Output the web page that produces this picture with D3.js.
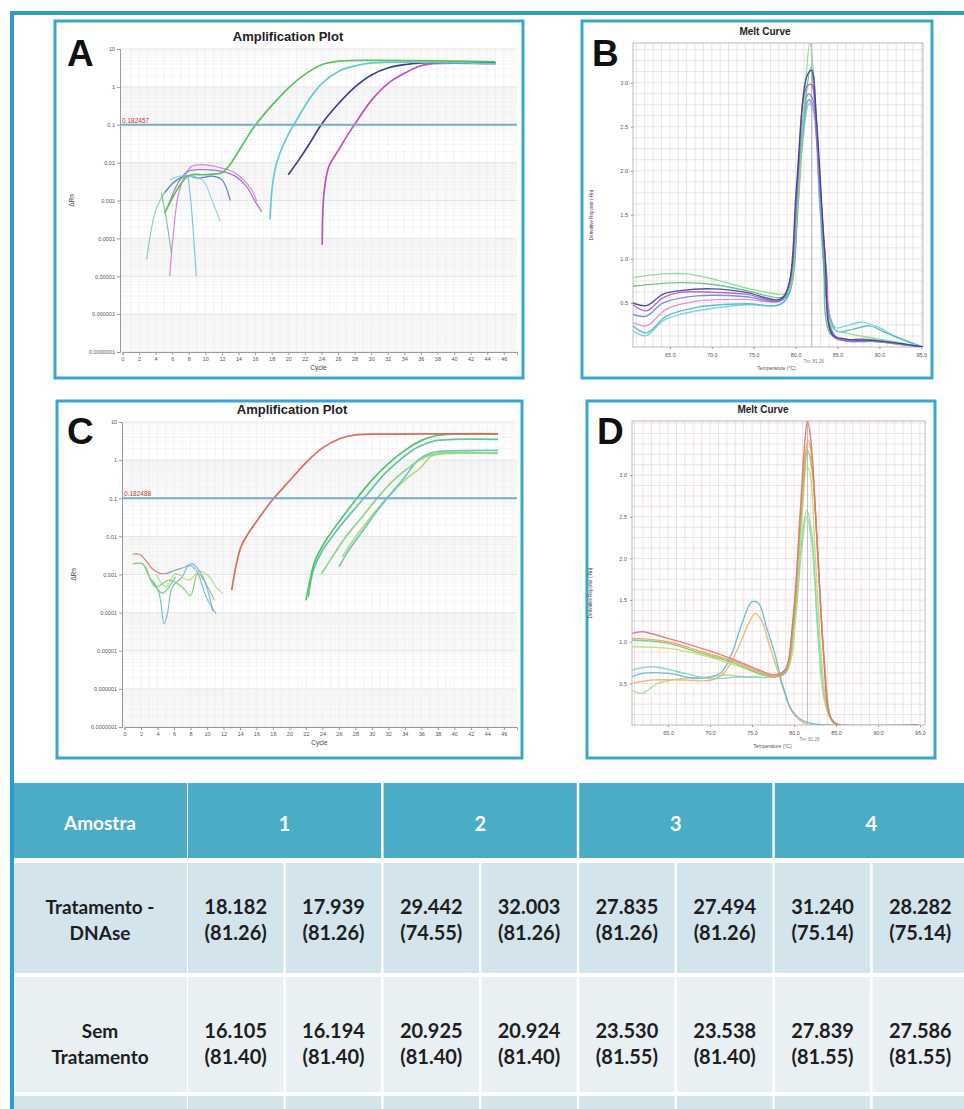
<!DOCTYPE html>
<html>
<head>
<meta charset="utf-8">
<script src="https://cdn.jsdelivr.net/npm/d3@7"></script>
<style>
  body { margin: 0; background: #fff; }
  svg { display: block; }
</style>
</head>
<body>
<svg id="fig" width="964" height="1109"></svg>
<script>
// ---- amplification plots: [cycle, deltaRn] ----
const cycleTicks = d3.range(0, 47, 2);
const ampDecades = [1e-7, 1e-6, 1e-5, 1e-4, 1e-3, 1e-2, 0.1, 1, 10];
const ampTickLabels = ['0.0000001', '0.000001', '0.00001', '0.0001', '0.001', '0.01', '0.1', '1', '10'];

const ampA_green = [[5.1, 4.7e-4], [7.9, 4.4e-3], [10.0, 4.8e-3], [12.0, 5.4e-3], [12.8, 7.9e-3], [14.0, 0.020], [15.0, 0.045], [16.0, 0.095], [17.0, 0.18], [18.0, 0.32], [20.0, 0.93], [22.1, 2.2], [24.1, 3.9], [26.1, 4.8], [30.1, 5.0], [45.0, 4.6]];
const ampA_teal = [[17.8, 3.1e-4], [18.0, 1.6e-3], [18.4, 6.5e-3], [19.0, 0.018], [20.0, 0.055], [21.3, 0.17], [22.5, 0.46], [24.1, 1.26], [26.1, 2.6], [28.1, 3.6], [30.1, 4.3], [45.0, 4.1]];
const ampA_navy = [[20.0, 4.8e-3], [21.3, 0.012], [22.5, 0.030], [24.1, 0.11], [26.1, 0.37], [28.1, 1.02], [30.1, 2.1], [32.1, 3.2], [34.2, 3.9], [36.2, 4.3], [45.0, 4.3]];
const ampA_magenta = [[24.1, 6.8e-5], [24.2, 7.1e-4], [24.4, 2.3e-3], [24.9, 7.9e-3], [26.1, 0.022], [27.3, 0.060], [28.1, 0.11], [30.1, 0.46], [32.1, 1.26], [34.2, 2.4], [35.8, 3.5], [37.4, 4.1], [45.0, 4.1]];
const noiseA_1 = [[2.9, 2.8e-5], [3.7, 3.1e-4], [4.1, 6.3e-4], [4.9, 1.4e-3], [5.9, 2.6e-3], [7.1, 3.9e-3], [7.9, 4.5e-3]];
const noiseA_2 = [[7.9, 4.5e-3], [8.3, 7.1e-4], [8.9, 1.0e-5]];
const noiseA_3 = [[5.7, 1.0e-5], [6.1, 1.1e-4], [6.7, 1.3e-3], [7.5, 4.4e-3], [8.3, 7.9e-3], [9.6, 8.9e-3], [11.2, 7.9e-3], [13.2, 5.9e-3], [14.6, 3.5e-3], [15.6, 1.9e-3], [16.2, 9.5e-4]];
const noiseA_4 = [[5.5, 7.1e-4], [6.7, 2.9e-3], [7.9, 5.9e-3], [10.0, 6.5e-3], [12.0, 5.9e-3], [13.6, 4.4e-3], [15.0, 2.3e-3], [16.0, 9.5e-4], [16.8, 5.1e-4]];
const noiseA_5 = [[5.1, 1.6e-3], [6.3, 3.2e-3], [7.7, 4.5e-3], [9.2, 3.9e-3], [10.8, 4.4e-3], [12.0, 3.5e-3], [13.0, 1.0e-3]];
const noiseA_6 = [[5.7, 3.5e-3], [7.1, 4.4e-3], [9.6, 3.5e-3], [10.8, 1.0e-3], [11.8, 2.8e-4]];
const noiseA_7 = [[4.7, 1.6e-3], [5.3, 3.1e-4], [5.9, 4.1e-5]];

const ampC_red = [[1.0, 3.4e-3], [1.8, 3.4e-3], [2.6, 2.3e-3], [3.4, 1.4e-3], [4.6, 1.05e-3], [5.8, 1.2e-3]];
const ampC_redAmp = [[13.0, 3.9e-4], [13.5, 1.6e-3], [14.1, 5.2e-3], [14.9, 0.011], [16.3, 0.030], [17.9, 0.089], [19.9, 0.27], [21.9, 0.81], [23.9, 2.0], [26.0, 3.6], [28.0, 4.6], [32.0, 4.8], [45.3, 4.9]];
const ampC_g1 = [[22.0, 2.1e-4], [22.5, 7.1e-4], [23.1, 2.3e-3], [24.3, 7.1e-3], [26.0, 0.024], [28.0, 0.089], [30.0, 0.30], [32.0, 0.81], [34.0, 1.8], [36.0, 3.3], [38.0, 4.5], [45.3, 4.9]];
const ampC_g2 = [[22.3, 2.6e-4], [22.9, 1.3e-3], [23.9, 3.9e-3], [25.6, 0.013], [27.6, 0.044], [29.6, 0.14], [31.6, 0.45], [33.6, 1.1], [35.6, 2.2], [37.6, 3.2], [40.0, 3.5], [45.3, 3.5]];
const ampC_g3 = [[23.9, 1.05e-3], [25.2, 2.9e-3], [26.8, 9.5e-3], [28.8, 0.032], [30.8, 0.11], [32.8, 0.32], [34.8, 0.72], [36.4, 1.2], [38.0, 1.5], [45.3, 1.55]];
const ampC_g4 = [[26.0, 1.6e-3], [27.2, 4.3e-3], [28.8, 0.013], [30.4, 0.040], [32.0, 0.11], [34.0, 0.36], [35.6, 1.0], [37.2, 1.55], [39.2, 1.74], [45.3, 1.8]];
const ampC_g5 = [[26.4, 2.9e-3], [28.0, 9.5e-3], [30.0, 0.035], [32.0, 0.11], [34.0, 0.30], [36.0, 0.66], [37.2, 1.26], [40.0, 1.5], [45.3, 1.5]];
const noiseC_1 = [[1.0, 1.9e-3], [2.2, 1.9e-3], [3.0, 8.7e-4], [3.8, 4.7e-4], [4.6, 3.2e-4], [5.4, 4.7e-4], [6.2, 8.7e-4]];
const noiseC_2 = [[3.4, 7.1e-4], [4.2, 3.2e-4], [4.8, 5.1e-5], [5.2, 9.3e-5], [5.8, 4.7e-4], [7.0, 8.7e-4], [7.8, 1.7e-3], [8.7, 1.3e-3], [9.9, 2.6e-4], [11.1, 9.3e-5]];
const noiseC_3 = [[3.8, 1.05e-3], [5.0, 4.7e-4], [6.2, 1.05e-3], [7.8, 7.1e-4], [9.1, 1.2e-3], [10.3, 8.7e-4], [11.1, 4.7e-4], [11.9, 3.2e-4]];
const noiseC_4 = [[2.6, 1.6e-3], [3.8, 4.7e-4], [5.4, 7.1e-4], [7.0, 4.7e-4], [8.0, 2.8e-4], [8.9, 1.05e-3], [10.3, 3.9e-4], [10.9, 2.1e-4]];
const noiseC_5 = [[5.0, 1.05e-3], [6.2, 1.3e-3], [7.4, 1.6e-3], [8.2, 1.9e-3], [9.5, 8.7e-4], [10.7, 1.1e-4]];

// ---- melt curves: [temperature, derivative] ----
const tempTicks = [65, 70, 75, 80, 85, 90, 95];
const derivTicks = [0.5, 1.0, 1.5, 2.0, 2.5, 3.0];

const meltB_green1 = [[60.6, 0.79], [64.2, 0.83], [67.0, 0.83], [70.2, 0.77], [74.1, 0.67], [78.1, 0.60], [79.1, 0.62], [80.1, 1.43], [80.9, 2.57], [81.7, 3.46], [82.1, 3.14], [82.7, 2.19], [83.5, 1.05], [84.4, 0.22], [86.0, 0.16], [90.0, 0.09], [92.4, 0.05], [95.2, 0.0]];
const meltB_green2 = [[60.6, 0.69], [66.2, 0.73], [70.2, 0.71], [74.1, 0.64], [78.1, 0.56], [79.1, 0.60], [80.1, 1.36], [81.1, 2.72], [81.8, 3.17], [82.3, 2.76], [83.3, 1.24], [84.2, 0.14], [86.0, 0.09], [90.0, 0.06], [95.2, 0.0]];
const meltB_navy = [[60.6, 0.50], [62.2, 0.47], [64.2, 0.60], [66.2, 0.64], [70.2, 0.66], [74.1, 0.62], [78.1, 0.54], [79.1, 0.67], [80.1, 1.81], [81.3, 3.06], [81.9, 3.14], [82.5, 2.57], [83.5, 1.05], [84.4, 0.14], [86.0, 0.09], [90.0, 0.07], [95.2, 0.0]];
const meltB_purple = [[60.6, 0.48], [62.2, 0.41], [64.2, 0.56], [66.2, 0.62], [70.2, 0.62], [74.1, 0.60], [78.1, 0.53], [79.3, 0.75], [80.3, 2.0], [81.3, 2.95], [81.9, 2.98], [82.5, 2.38], [83.7, 0.83], [84.6, 0.11], [88.0, 0.09], [90.8, 0.06], [95.2, 0.0]];
const meltB_blue = [[60.6, 0.37], [62.2, 0.35], [64.2, 0.50], [68.2, 0.58], [74.1, 0.57], [78.1, 0.52], [79.3, 0.67], [80.5, 2.19], [81.5, 2.87], [82.1, 2.80], [82.9, 1.81], [83.8, 0.48], [84.8, 0.11], [90.0, 0.06], [95.2, 0.0]];
const meltB_pink = [[60.6, 0.28], [62.2, 0.24], [64.6, 0.43], [68.2, 0.52], [74.1, 0.54], [78.1, 0.52], [79.3, 0.66], [80.5, 2.11], [81.5, 2.80], [82.1, 2.72], [82.9, 1.73], [83.9, 0.45], [84.9, 0.11], [90.0, 0.06], [95.2, 0.0]];
const meltB_cyan = [[60.6, 0.18], [62.2, 0.13], [64.2, 0.30], [66.2, 0.37], [70.2, 0.44], [74.1, 0.48], [78.1, 0.48], [79.3, 0.62], [80.5, 2.0], [81.6, 2.76], [82.1, 2.68], [82.9, 1.58], [84.0, 0.37], [84.8, 0.22], [86.0, 0.24], [88.0, 0.28], [90.0, 0.22], [92.0, 0.11], [95.2, 0.0]];
const meltB_teal = [[60.6, 0.24], [62.2, 0.16], [64.6, 0.35], [68.2, 0.45], [74.1, 0.49], [78.1, 0.48], [79.3, 0.63], [80.5, 2.08], [81.6, 2.81], [82.1, 2.74], [82.9, 1.66], [84.0, 0.39], [84.9, 0.18], [86.8, 0.20], [88.8, 0.24], [90.8, 0.16], [95.2, 0.0]];

const meltD_red = [[60.7, 1.10], [61.9, 1.12], [65.0, 1.04], [69.0, 0.92], [73.0, 0.78], [75.8, 0.66], [77.7, 0.60], [78.9, 0.66], [79.9, 1.30], [80.7, 2.50], [81.3, 3.42], [81.6, 3.65], [82.0, 3.42], [82.7, 2.30], [83.5, 0.90], [84.3, 0.10], [85.3, 0.0], [94.8, 0.0]];
const meltD_orange = [[60.7, 1.04], [65.0, 1.00], [69.0, 0.88], [73.0, 0.76], [75.8, 0.64], [77.7, 0.58], [78.9, 0.64], [79.9, 1.26], [80.7, 2.38], [81.4, 3.30], [81.7, 3.42], [82.1, 3.22], [82.8, 2.10], [83.6, 0.78], [84.4, 0.08], [85.3, 0.0], [94.8, 0.0]];
const meltD_green = [[60.7, 1.02], [65.0, 0.98], [69.0, 0.86], [73.0, 0.74], [75.8, 0.62], [77.7, 0.58], [78.9, 0.62], [79.9, 1.18], [80.7, 2.30], [81.3, 3.10], [81.6, 3.30], [82.1, 3.10], [82.9, 1.90], [83.7, 0.62], [84.5, 0.06], [85.3, 0.0], [94.8, 0.0]];
const meltD_lime = [[60.7, 0.94], [65.0, 0.92], [69.0, 0.84], [73.0, 0.72], [77.7, 0.58], [79.3, 0.70], [80.3, 1.50], [81.1, 2.70], [81.5, 3.10], [81.9, 3.02], [82.5, 2.10], [83.3, 0.78], [84.1, 0.14], [85.3, 0.0], [94.8, 0.0]];
const meltD_seaGreen = [[60.7, 0.66], [63.1, 0.70], [67.0, 0.62], [70.0, 0.56], [74.0, 0.58], [77.7, 0.58], [79.1, 0.66], [80.1, 1.30], [80.9, 2.18], [81.5, 2.58], [82.1, 2.30], [82.9, 1.10], [83.7, 0.30], [84.7, 0.04], [85.7, 0.0], [94.8, 0.0]];
const meltD_tealDimer = [[60.7, 0.58], [61.9, 0.62], [65.0, 0.62], [68.2, 0.56], [70.2, 0.58], [71.4, 0.64], [72.6, 0.86], [73.8, 1.22], [75.0, 1.48], [75.8, 1.46], [76.7, 1.18], [77.7, 0.86], [78.7, 0.46], [79.7, 0.18], [80.9, 0.06], [82.1, 0.02], [83.7, 0.0], [94.8, 0.0]];
const meltD_amberDimer = [[60.7, 0.50], [63.1, 0.54], [67.0, 0.54], [70.2, 0.54], [71.8, 0.64], [73.4, 0.94], [74.6, 1.22], [75.4, 1.34], [76.2, 1.24], [77.0, 0.98], [77.9, 0.70], [78.9, 0.38], [79.9, 0.14], [81.3, 0.02], [83.7, 0.0], [94.8, 0.0]];
const meltD_paleGreen = [[60.7, 0.42], [61.9, 0.38], [63.8, 0.50], [67.0, 0.56], [70.2, 0.58], [71.8, 0.60], [74.0, 0.58], [77.7, 0.58], [79.1, 0.64], [80.1, 1.20], [80.9, 2.10], [81.5, 2.50], [82.1, 2.20], [82.9, 1.00], [83.7, 0.25], [84.7, 0.02], [85.7, 0.0], [94.8, 0.0]];

// ---- table ----
const samples = ['1', '2', '3', '4'];
const rowLabels = [['Tratamento -', 'DNAse'], ['Sem', 'Tratamento']];
const ctDNAse = [18.182, 17.939, 29.442, 32.003, 27.835, 27.494, 31.240, 28.282];
const tmDNAse = [81.26, 81.26, 74.55, 81.26, 81.26, 81.26, 75.14, 75.14];
const ctSem = [16.105, 16.194, 20.925, 20.924, 23.530, 23.538, 27.839, 27.586];
const tmSem = [81.40, 81.40, 81.40, 81.40, 81.55, 81.40, 81.55, 81.55];

const svg = d3.select('#fig');
const frameColor = '#2e9cc8';
const boxColor = '#3aa5cf';
const tiny = 'Liberation Sans, Arial, sans-serif';

// outer frame, open to the right and bottom
svg.append('path')
  .attr('d', 'M12,1109 V13 H964')
  .attr('fill', 'none')
  .attr('stroke', frameColor)
  .attr('stroke-width', 4);

function panelBox(box, letter, lx, ly) {
  svg.append('rect')
    .attr('x', box[0]).attr('y', box[1])
    .attr('width', box[2] - box[0]).attr('height', box[3] - box[1])
    .attr('fill', '#fff')
    .attr('stroke', boxColor)
    .attr('stroke-width', 3);
  svg.append('text')
    .attr('x', lx).attr('y', ly)
    .text(letter)
    .style('font-family', tiny)
    .style('font-weight', 'bold')
    .style('font-size', '37px')
    .attr('fill', '#111');
}

function styleAxis(g) {
  g.select('.domain').attr('stroke', '#9a9a9a');
  g.selectAll('.tick line').attr('stroke', '#9a9a9a');
  g.selectAll('.tick text')
    .attr('fill', '#555')
    .style('font-family', tiny)
    .style('font-size', '5.5px');
}

function ampPanel(p) {
  panelBox(p.box, p.letter, p.letterX, p.letterY);
  const g = svg.append('g');
  const x = d3.scaleLinear().domain([0, 47.6]).range([p.left + 2.5, p.right]);
  const y = d3.scaleLog().domain([1e-7, 10]).range([p.bottom, p.top]);

  const clipId = `clip_${p.letter}`;
  g.append('clipPath').attr('id', clipId)
    .append('rect')
    .attr('x', p.left).attr('y', p.top)
    .attr('width', p.right - p.left).attr('height', p.bottom - p.top);

  // alternating decade bands
  g.selectAll('.band')
    .data([1, 1e-2, 1e-4, 1e-6])
    .join('rect')
    .attr('x', p.left).attr('width', p.right - p.left)
    .attr('y', d => y(d))
    .attr('height', d => y(d / 10) - y(d))
    .attr('fill', '#f8f8f8');

  // minor log grid
  const minors = [];
  ampDecades.slice(0, -1).forEach(d => d3.range(2, 10).forEach(k => minors.push(d * k)));
  g.selectAll('.hminor')
    .data(minors)
    .join('line')
    .attr('x1', p.left).attr('x2', p.right)
    .attr('y1', d => y(d)).attr('y2', d => y(d))
    .attr('stroke', '#efefef').attr('stroke-width', 0.6);
  g.selectAll('.hmajor')
    .data(ampDecades)
    .join('line')
    .attr('x1', p.left).attr('x2', p.right)
    .attr('y1', d => y(d)).attr('y2', d => y(d))
    .attr('stroke', '#dedede').attr('stroke-width', 0.8);
  g.selectAll('.vgrid')
    .data(d3.range(1, 48))
    .join('line')
    .attr('x1', d => x(d)).attr('x2', d => x(d))
    .attr('y1', p.top).attr('y2', p.bottom)
    .attr('stroke', '#ebebeb').attr('stroke-width', 0.6);

  g.append('g')
    .attr('transform', `translate(${p.left},0)`)
    .call(d3.axisLeft(y).tickValues(ampDecades).tickFormat((d, i) => ampTickLabels[i]).tickSize(3).tickPadding(2))
    .call(styleAxis);
  g.append('g')
    .attr('transform', `translate(0,${p.bottom})`)
    .call(d3.axisBottom(x).tickValues(cycleTicks).tickSize(3).tickPadding(2))
    .call(styleAxis);

  g.append('text')
    .attr('x', p.titleX).attr('y', p.top - 8)
    .attr('text-anchor', 'middle')
    .text('Amplification Plot')
    .style('font-family', tiny).style('font-weight', 'bold').style('font-size', '13px')
    .attr('fill', '#222');
  g.append('text')
    .attr('x', (p.left + p.right) / 2).attr('y', p.bottom + 18)
    .attr('text-anchor', 'middle')
    .text('Cycle')
    .style('font-family', tiny).style('font-size', '6.5px')
    .attr('fill', '#444');
  g.append('text')
    .attr('transform', `translate(${p.left - 46},${y(1e-3)}) rotate(-90)`)
    .attr('text-anchor', 'middle')
    .text('ΔRn')
    .style('font-family', tiny).style('font-size', '6.5px')
    .attr('fill', '#444');

  const line = d3.line()
    .x(d => x(d[0]))
    .y(d => y(d[1]))
    .curve(d3.curveCatmullRom.alpha(0.5));
  const curves = g.append('g').attr('clip-path', `url(#${clipId})`);
  curves.selectAll('.noise')
    .data(p.noise)
    .join('path')
    .attr('d', d => line(d.pts))
    .attr('fill', 'none')
    .attr('stroke', d => d.color)
    .attr('stroke-width', 1.2)
    .attr('opacity', 0.9);

  // threshold
  g.append('line')
    .attr('x1', p.left).attr('x2', p.right)
    .attr('y1', y(p.threshold)).attr('y2', y(p.threshold))
    .attr('stroke', '#72acd8').attr('stroke-width', 1.8);
  g.append('text')
    .attr('x', p.left + 2).attr('y', y(p.threshold) - 2)
    .text(p.thresholdLabel)
    .style('font-family', tiny).style('font-size', '6.5px')
    .attr('fill', '#c0392b');

  curves.selectAll('.amp')
    .data(p.curves)
    .join('path')
    .attr('d', d => line(d.pts))
    .attr('fill', 'none')
    .attr('stroke', d => d.color)
    .attr('stroke-width', 1.7);
}

function meltPanel(p) {
  panelBox(p.box, p.letter, p.letterX, p.letterY);
  const g = svg.append('g');
  const x = d3.scaleLinear().domain(p.xDomain).range([p.left, p.right]);
  const y = d3.scaleLinear().domain(p.yDomain).range([p.bottom, p.top]);

  const clipId = `clip_${p.letter}`;
  g.append('clipPath').attr('id', clipId)
    .append('rect')
    .attr('x', p.left).attr('y', p.top)
    .attr('width', p.right - p.left).attr('height', p.bottom - p.top);

  g.selectAll('.vgrid')
    .data(d3.range(61, 96))
    .join('line')
    .attr('x1', d => x(d)).attr('x2', d => x(d))
    .attr('y1', p.top).attr('y2', p.bottom)
    .attr('stroke', p.gridColor).attr('stroke-width', 0.7);
  g.selectAll('.hgrid')
    .data(d3.range(0.125, p.yDomain[1], 0.125))
    .join('line')
    .attr('x1', p.left).attr('x2', p.right)
    .attr('y1', d => y(d)).attr('y2', d => y(d))
    .attr('stroke', p.gridColor).attr('stroke-width', 0.7);
  g.append('rect')
    .attr('x', p.left).attr('y', p.top)
    .attr('width', p.right - p.left).attr('height', p.bottom - p.top)
    .attr('fill', 'none').attr('stroke', '#b9a4aa').attr('stroke-width', 0.8);

  g.append('g')
    .attr('transform', `translate(${p.left},0)`)
    .call(d3.axisLeft(y).tickValues(derivTicks).tickFormat(d3.format('.1f')).tickSize(2).tickPadding(3))
    .call(styleAxis)
    .call(a => a.select('.domain').remove());
  g.append('g')
    .attr('transform', `translate(0,${p.bottom})`)
    .call(d3.axisBottom(x).tickValues(tempTicks).tickFormat(d3.format('.1f')).tickSize(2).tickPadding(4))
    .call(styleAxis)
    .call(a => a.select('.domain').remove());

  // Tm marker
  g.append('line')
    .attr('x1', x(p.tmLine)).attr('x2', x(p.tmLine))
    .attr('y1', p.top).attr('y2', p.bottom)
    .attr('stroke', '#b0b0b0').attr('stroke-width', 0.8);
  g.append('text')
    .attr('x', x(p.tmLine) + 2).attr('y', p.bottom + 16)
    .attr('text-anchor', 'middle')
    .text(p.tmLabel)
    .style('font-family', tiny).style('font-size', '4.5px')
    .attr('fill', '#777');

  g.append('text')
    .attr('x', p.titleX).attr('y', p.top - 8)
    .attr('text-anchor', 'middle')
    .text('Melt Curve')
    .style('font-family', tiny).style('font-weight', 'bold').style('font-size', '10px')
    .attr('fill', '#222');
  g.append('text')
    .attr('x', x(p.tmLine) - 35).attr('y', p.bottom + 23)
    .attr('text-anchor', 'middle')
    .text('Temperature (°C)')
    .style('font-family', tiny).style('font-size', '5px')
    .attr('fill', '#555');
  g.append('text')
    .attr('transform', `translate(${p.left - 40},${(p.top + p.bottom) / 2 + 20}) rotate(-90)`)
    .attr('text-anchor', 'middle')
    .text('Derivative Reporter (-Rn)')
    .style('font-family', tiny).style('font-size', '4.5px')
    .attr('fill', '#444');

  const line = d3.line()
    .x(d => x(d[0]))
    .y(d => y(d[1]))
    .curve(d3.curveCatmullRom.alpha(0.5));
  g.append('g').attr('clip-path', `url(#${clipId})`)
    .selectAll('path')
    .data(p.curves)
    .join('path')
    .attr('d', d => line(d.pts))
    .attr('fill', 'none')
    .attr('stroke', d => d.color)
    .attr('stroke-width', 1.4)
    .attr('opacity', 0.9);
}

ampPanel({
  letter: 'A', letterX: 67, letterY: 66,
  box: [55, 21, 523, 378],
  left: 120, right: 517, top: 49, bottom: 352, titleX: 288,
  threshold: 0.1, thresholdLabel: '0.182457',
  noise: [
    { pts: noiseA_1, color: '#7ccdb0' },
    { pts: noiseA_2, color: '#6cc4d4' },
    { pts: noiseA_3, color: '#d27ad2' },
    { pts: noiseA_4, color: '#9b6ac6' },
    { pts: noiseA_5, color: '#4f6fd0' },
    { pts: noiseA_6, color: '#8ad3dc' },
    { pts: noiseA_7, color: '#66c48e' }
  ],
  curves: [
    { pts: ampA_magenta, color: '#c24ec6' },
    { pts: ampA_navy, color: '#3a3c96' },
    { pts: ampA_teal, color: '#68c9d6' },
    { pts: ampA_green, color: '#58c25c' }
  ]
});

ampPanel({
  letter: 'C', letterX: 67, letterY: 444,
  box: [57, 401, 522, 758],
  left: 122, right: 517, top: 422, bottom: 727, titleX: 292,
  threshold: 0.1, thresholdLabel: '0.182488',
  noise: [
    { pts: ampC_red, color: '#d9706a' },
    { pts: noiseC_1, color: '#6cc77c' },
    { pts: noiseC_2, color: '#6cbcd0' },
    { pts: noiseC_3, color: '#b8d868' },
    { pts: noiseC_4, color: '#80cc70' },
    { pts: noiseC_5, color: '#7aa8d8' }
  ],
  curves: [
    { pts: ampC_g5, color: '#b4dc78' },
    { pts: ampC_g4, color: '#6cc8c4' },
    { pts: ampC_g3, color: '#8cd68c' },
    { pts: ampC_g2, color: '#5cc8a0' },
    { pts: ampC_g1, color: '#52c46a' },
    { pts: ampC_redAmp, color: '#dc6a5c' }
  ]
});

meltPanel({
  letter: 'B', letterX: 592, letterY: 66,
  box: [582, 21, 932, 378],
  left: 633, right: 923, top: 43, bottom: 347, titleX: 765,
  xDomain: [60.6, 95.2], yDomain: [0, 3.45],
  gridColor: '#e4d8dc', tmLine: 81.9, tmLabel: 'Tm: 81.26',
  curves: [
    { pts: meltB_cyan, color: '#6ed3dc' },
    { pts: meltB_teal, color: '#4fb8c6' },
    { pts: meltB_pink, color: '#d98ad8' },
    { pts: meltB_blue, color: '#6a86d8' },
    { pts: meltB_green2, color: '#5cc17a' },
    { pts: meltB_green1, color: '#86d890' },
    { pts: meltB_purple, color: '#b05cc0' },
    { pts: meltB_navy, color: '#3d3d9e' }
  ]
});

meltPanel({
  letter: 'D', letterX: 597, letterY: 444,
  box: [587, 401, 935, 758],
  left: 632, right: 925, top: 421, bottom: 725, titleX: 763,
  xDomain: [60.7, 95.6], yDomain: [0, 3.65],
  gridColor: '#eed2d8', tmLine: 81.6, tmLabel: 'Tm: 81.26',
  curves: [
    { pts: meltD_paleGreen, color: '#a8dc90' },
    { pts: meltD_amberDimer, color: '#f2b36a' },
    { pts: meltD_tealDimer, color: '#5cbcd4' },
    { pts: meltD_seaGreen, color: '#80d4c0' },
    { pts: meltD_lime, color: '#c4dc70' },
    { pts: meltD_green, color: '#6ccf6c' },
    { pts: meltD_orange, color: '#f0a060' },
    { pts: meltD_red, color: '#e07070' }
  ]
});

// ---- table ----
const tableFont = 'Lato, "Open Sans", sans-serif';
const col = d3.scaleBand().domain(d3.range(8)).range([188, 968]).paddingInner(0.025);
const rows = [
  { y0: 863, y1: 973, textY: 919, fill: '#d3e4ec', label: rowLabels[0], ct: ctDNAse, tm: tmDNAse },
  { y0: 977, y1: 1092, textY: 1043, fill: '#e9f0f3', label: rowLabels[1], ct: ctSem, tm: tmSem }
];
const fmtCt = d3.format('.3f');
const fmtTm = d => `(${d3.format('.2f')(d)})`;
const tbl = svg.append('g');

tbl.append('rect').attr('x', 14).attr('y', 783).attr('width', 173).attr('height', 75).attr('fill', '#4bacc6');
tbl.append('text')
  .attr('x', 100).attr('y', 822)
  .attr('text-anchor', 'middle').attr('dominant-baseline', 'central')
  .text('Amostra')
  .style('font-family', tableFont).style('font-size', '19px').style('font-weight', 'bold')
  .attr('fill', '#fff');
tbl.selectAll('.samp')
  .data(samples)
  .join('rect')
  .attr('x', (d, i) => col(2 * i))
  .attr('y', 783)
  .attr('width', (d, i) => col(2 * i + 1) + col.bandwidth() - col(2 * i))
  .attr('height', 75)
  .attr('fill', '#4bacc6');
tbl.selectAll('.sampText')
  .data(samples)
  .join('text')
  .attr('x', (d, i) => (col(2 * i) + col(2 * i + 1) + col.bandwidth()) / 2)
  .attr('y', 823)
  .attr('text-anchor', 'middle').attr('dominant-baseline', 'central')
  .text(d => d)
  .style('font-family', tableFont).style('font-size', '20px').style('font-weight', 'bold')
  .attr('fill', '#fff');

rows.forEach(r => {
  tbl.append('rect').attr('x', 14).attr('y', r.y0).attr('width', 173).attr('height', r.y1 - r.y0).attr('fill', r.fill);
  tbl.selectAll(null)
    .data(d3.range(8))
    .join('rect')
    .attr('x', d => col(d)).attr('y', r.y0)
    .attr('width', col.bandwidth()).attr('height', r.y1 - r.y0)
    .attr('fill', r.fill);
  r.label.forEach((t, k) => {
    tbl.append('text')
      .attr('x', 100).attr('y', r.textY - 13 + k * 26)
      .attr('text-anchor', 'middle').attr('dominant-baseline', 'central')
      .text(t)
      .style('font-family', tableFont).style('font-size', '19px').style('font-weight', 'bold')
      .attr('fill', '#1e1e1e');
  });
  tbl.selectAll(null)
    .data(r.ct)
    .join('text')
    .attr('x', (d, i) => col(i) + col.bandwidth() / 2)
    .attr('y', r.textY - 13)
    .attr('text-anchor', 'middle').attr('dominant-baseline', 'central')
    .text(d => fmtCt(d))
    .style('font-family', tableFont).style('font-size', '20px').style('font-weight', 'bold')
    .attr('fill', '#1e1e1e');
  tbl.selectAll(null)
    .data(r.tm)
    .join('text')
    .attr('x', (d, i) => col(i) + col.bandwidth() / 2)
    .attr('y', r.textY + 13)
    .attr('text-anchor', 'middle').attr('dominant-baseline', 'central')
    .text(d => fmtTm(d))
    .style('font-family', tableFont).style('font-size', '20px').style('font-weight', 'bold')
    .attr('fill', '#1e1e1e');
});

// last (cut-off) row
tbl.append('rect').attr('x', 14).attr('y', 1096).attr('width', 173).attr('height', 13).attr('fill', '#d3e4ec');
tbl.selectAll(null)
  .data(d3.range(8))
  .join('rect')
  .attr('x', d => col(d)).attr('y', 1096)
  .attr('width', col.bandwidth()).attr('height', 13)
  .attr('fill', '#d3e4ec');
</script>
</body>
</html>
